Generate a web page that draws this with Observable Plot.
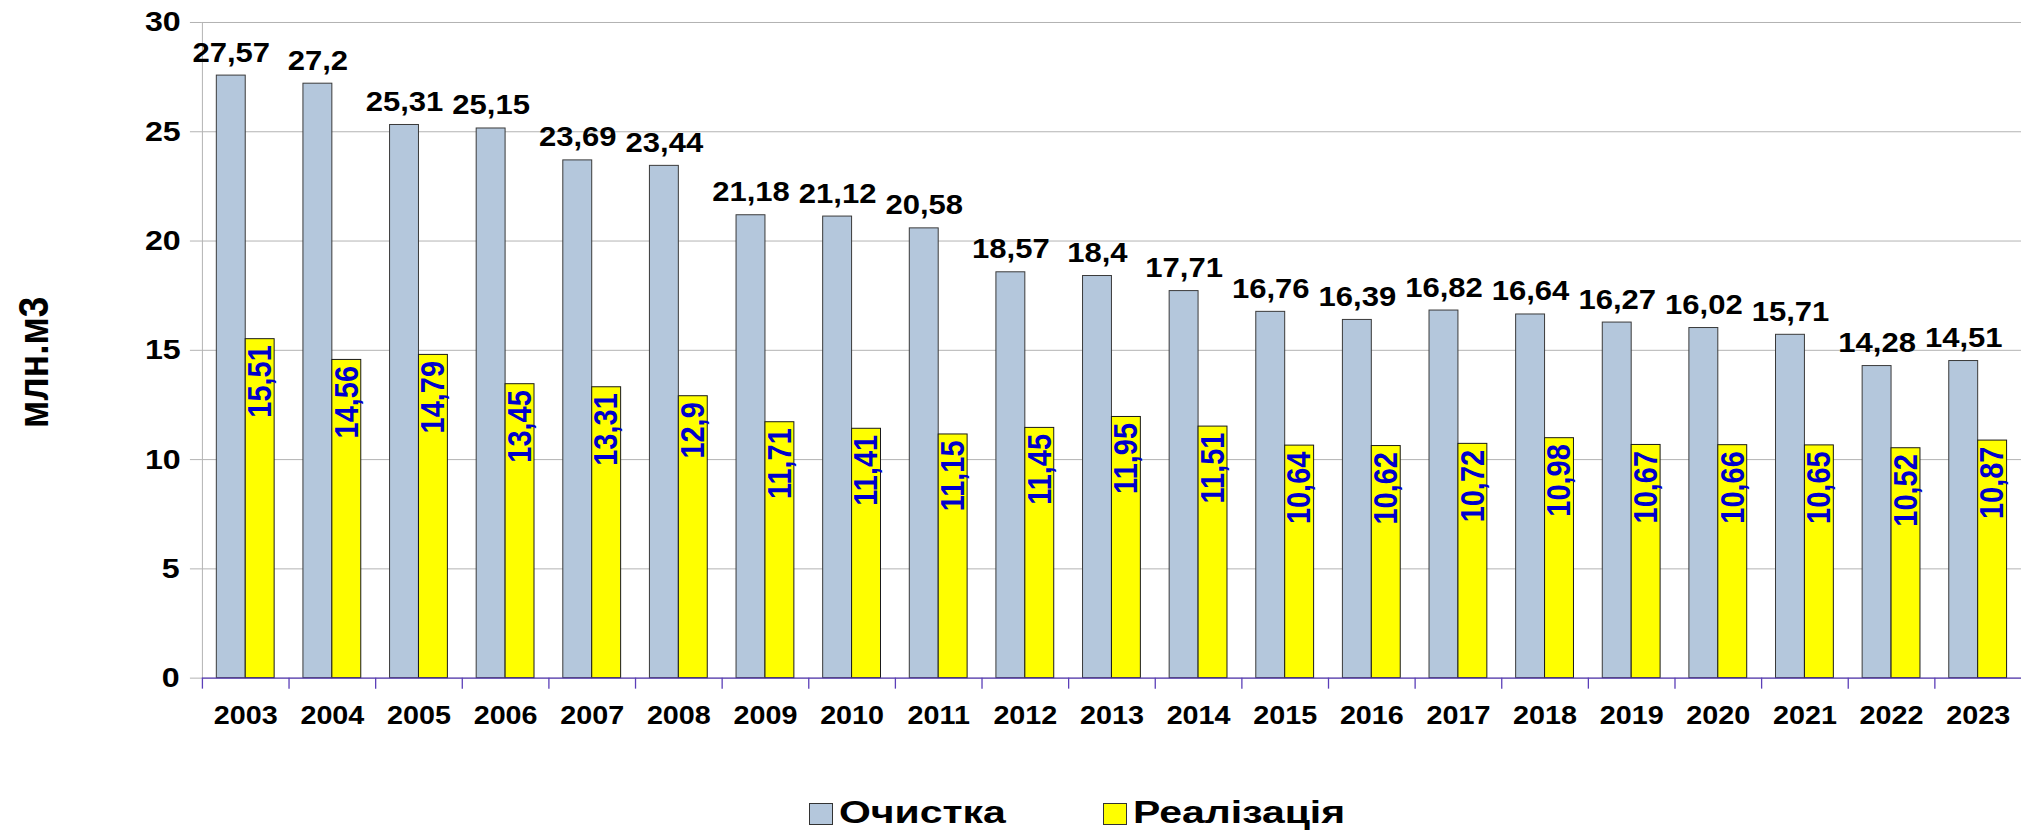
<!DOCTYPE html>
<html><head><meta charset="utf-8">
<script src="https://cdn.jsdelivr.net/npm/d3@7"></script>
<script src="https://cdn.jsdelivr.net/npm/@observablehq/plot@0.6"></script>
<style>
html,body{margin:0;padding:0;background:#fff;overflow:hidden;}
body{font-family:"Liberation Sans",Arial,sans-serif;}
#chart{width:2021px;height:835px;position:relative;overflow:hidden;}
#chart svg text{font-family:"Liberation Sans",Arial,sans-serif;}
.st{transform-box:fill-box;transform-origin:center;transform:scaleX(1.15);}
.sw{position:absolute;box-sizing:border-box;width:24px;height:22px;top:803px;border:1px solid #333;}
.lt{position:absolute;top:795px;font-weight:bold;font-size:31px;line-height:36px;white-space:nowrap;transform-origin:left center;transform:scaleX(1.32);color:#000;}
</style></head><body><div id="chart"></div>
<script>
const years = ["2003","2004","2005","2006","2007","2008","2009","2010","2011","2012","2013","2014","2015","2016","2017","2018","2019","2020","2021","2022","2023"];
const ochystka = [27.57,27.2,25.31,25.15,23.69,23.44,21.18,21.12,20.58,18.57,18.4,17.71,16.76,16.39,16.82,16.64,16.27,16.02,15.71,14.28,14.51];
const realizatsiia = [15.51,14.56,14.79,13.45,13.31,12.9,11.71,11.41,11.15,11.45,11.95,11.51,10.64,10.62,10.72,10.98,10.67,10.66,10.65,10.52,10.87];
const seriesNames = ["Очистка","Реалізація"];
const seriesColors = ["#b4c7dc","#ffff00"];
const yTicks = [0,5,10,15,20,25,30];
const yLabel = "млн.м3";

const table = years.map((year,i)=>({year, och: ochystka[i], real: realizatsiia[i]}));
const fmt = v => String(v).replace(".", ",");

const W = 2022, H = 760, mL = 202, mR = 0, mT = 22, mB = 82;
const bw = (W - mL - mR) / years.length;
const pad = bw * 0.1662;      // outer gap inside each category
const barW = (bw - 2*pad) / 2;
const purple = "#5b3fb8";
const grid = "#b3b3b3";

const plot = Plot.plot({
  width: W, height: H,
  marginLeft: mL, marginRight: mR, marginTop: mT, marginBottom: mB,
  x: {type: "band", domain: years, padding: 0, round: false, axis: null},
  y: {domain: [0, 30], axis: null},
  marks: [
    Plot.gridY(yTicks, {stroke: grid, strokeOpacity: 1}),
    Plot.axisY(yTicks, {tickSize: 12, tickPadding: 12, stroke: grid, strokeOpacity: 1, fill: "#000", fontSize: 28, fontWeight: "bold", tickFormat: d => String(d), label: null}),
    Plot.ruleX([years[0]], {x: d => d, dx: -bw/2, y1: 0, y2: 30, stroke: grid}),
    Plot.barY(table, {x: "year", y: "och", fill: seriesColors[0], stroke: "#3a3a3a", strokeWidth: 1, insetLeft: pad, insetRight: pad + barW}),
    Plot.barY(table, {x: "year", y: "real", fill: seriesColors[1], stroke: "#1a1a1a", strokeWidth: 1, insetLeft: pad + barW, insetRight: pad}),
    Plot.ruleY([0], {stroke: purple, strokeWidth: 1.3}),
    Plot.ruleX(years, {x: d => d, dx: -bw/2, y1: 0, y2: 0, insetBottom: -11, stroke: purple, strokeWidth: 1.3}),
    Plot.axisX(years, {tickSize: 0, tickPadding: 28, fill: "#000", fontSize: 25, fontWeight: "bold", label: null}),
    Plot.text(table, {x: "year", y: "och", text: d => fmt(d.och), dx: -bw/2 + pad + barW/2, dy: -14, lineAnchor: "bottom", fontSize: 27, fontWeight: "bold", fill: "#000"}),
    Plot.text(table, {x: "year", y: "real", text: d => fmt(d.real), dx: -bw/2 + pad + barW*1.5, dy: 6, rotate: -90, textAnchor: "end", lineAnchor: "middle", fontSize: 29, fontWeight: "bold", fill: "#0000cc"}),
    Plot.text([yLabel], {frameAnchor: "left", text: d => d, dx: 34 - mL, dy: 12, rotate: -90, textAnchor: "middle", lineAnchor: "middle", fontSize: 37, fontWeight: "bold", fill: "#000"})
  ]
});
const chart = document.getElementById("chart");
chart.appendChild(plot);
const ns = "http://www.w3.org/2000/svg";
plot.querySelectorAll("text").forEach(t => {
  const g = document.createElementNS(ns, "g");
  g.setAttribute("class", "st");
  t.parentNode.insertBefore(g, t);
  g.appendChild(t);
});
// legend
const legendX = [809, 1103];
seriesNames.forEach((name, i) => {
  const sw = document.createElement("div");
  sw.className = "sw";
  sw.style.left = legendX[i] + "px";
  sw.style.background = seriesColors[i];
  chart.appendChild(sw);
  const lt = document.createElement("div");
  lt.className = "lt";
  lt.style.left = (legendX[i] + 30) + "px";
  lt.textContent = name;
  chart.appendChild(lt);
});
</script>
</body></html>
